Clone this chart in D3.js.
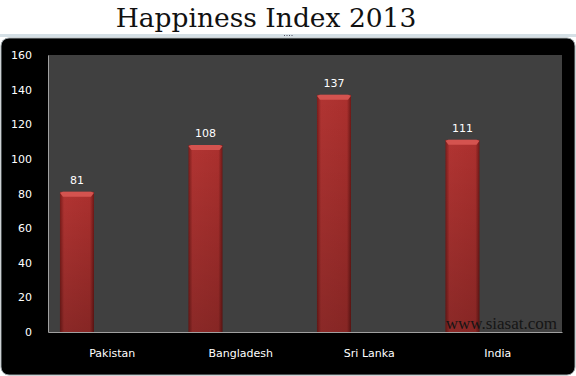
<!DOCTYPE html>
<html>
<head>
<meta charset="utf-8">
<script src="https://cdn.jsdelivr.net/npm/d3@7"></script>
<style>
  html, body { margin: 0; padding: 0; background: #fff; }
  svg { display: block; }
</style>
</head>
<body>
<svg id="chart" width="576" height="376"></svg>
<script>
const categories = ["Pakistan", "Bangladesh", "Sri Lanka", "India"];
const values = [81, 108, 137, 111];
const yTicks = [0, 20, 40, 60, 80, 100, 120, 140, 160];
const title = "Happiness Index 2013";

const svg = d3.select("#chart");
const plot = { left: 48, right: 562, top: 55, bottom: 332 };

const defs = svg.append("defs");
defs.append("linearGradient")
  .attr("id", "bar-side")
  .attr("x1", "0%").attr("x2", "100%").attr("y1", "0%").attr("y2", "0%")
  .call((g) => {
    g.append("stop").attr("offset", "0%").attr("stop-color", "#7a1c1a");
    g.append("stop").attr("offset", "12%").attr("stop-color", "#b13432");
    g.append("stop").attr("offset", "88%").attr("stop-color", "#ab302e");
    g.append("stop").attr("offset", "100%").attr("stop-color", "#6e1816");
  });
defs.append("linearGradient")
  .attr("id", "bar-shade")
  .attr("x1", "0%").attr("x2", "0%").attr("y1", "0%").attr("y2", "100%")
  .call((g) => {
    g.append("stop").attr("offset", "0%").attr("stop-color", "#000").attr("stop-opacity", 0);
    g.append("stop").attr("offset", "100%").attr("stop-color", "#000").attr("stop-opacity", 0.22);
  });

// title strip
svg.append("text")
  .attr("x", 266).attr("y", 27)
  .attr("text-anchor", "middle")
  .attr("font-family", "DejaVu Serif, serif")
  .attr("font-size", 26.5)
  .attr("fill", "#111")
  .text(title);

svg.append("rect").attr("x", 0).attr("y", 34).attr("width", 576).attr("height", 3).attr("fill", "#d5e0e6");
svg.append("g").selectAll("rect")
  .data([0, 1, 2, 3])
  .join("rect")
  .attr("x", (d) => 284 + d * 2.5).attr("y", 35)
  .attr("width", 1).attr("height", 1)
  .attr("fill", "#556");

// black frame
svg.append("rect")
  .attr("x", 1).attr("y", 38).attr("width", 574).attr("height", 337)
  .attr("rx", 8).attr("fill", "#000")
  .attr("stroke", "#9aa4a8").attr("stroke-width", 1);

const x = d3.scaleBand().domain(categories).range([plot.left, plot.right]);
const y = d3.scaleLinear().domain([0, 160]).range([plot.bottom, plot.top]);

svg.append("rect")
  .attr("x", plot.left).attr("y", plot.top)
  .attr("width", plot.right - plot.left).attr("height", plot.bottom - plot.top)
  .attr("fill", "#404040");

// y axis labels
const yAxis = svg.append("g")
  .attr("transform", `translate(${plot.left},0)`)
  .call(d3.axisLeft(y).tickValues(yTicks).tickSize(0).tickPadding(16));
yAxis.select(".domain").attr("stroke", "#a0a0a0");
yAxis.selectAll("text")
  .attr("fill", "#fff")
  .attr("font-family", "DejaVu Sans, sans-serif")
  .attr("font-size", 11);

// x axis labels
const xAxis = svg.append("g")
  .attr("transform", `translate(0,${plot.bottom})`)
  .call(d3.axisBottom(x).tickSize(0).tickPadding(17));
xAxis.select(".domain").attr("stroke", "#a0a0a0");
xAxis.selectAll("text")
  .attr("fill", "#fff")
  .attr("font-family", "DejaVu Sans, sans-serif")
  .attr("font-size", 11);

const bw = x.bandwidth();
const barX = (d, i) => x(categories[i]) + bw * 0.093;
const barW = bw * 0.265;

const bars = svg.append("g");
bars.selectAll("rect.bar")
  .data(values)
  .join("rect")
  .attr("class", "bar")
  .attr("x", barX)
  .attr("y", (d) => y(d))
  .attr("width", barW)
  .attr("height", (d) => y(0) - y(d))
  .attr("fill", "url(#bar-side)");
bars.selectAll("rect.shade")
  .data(values)
  .join("rect")
  .attr("class", "shade")
  .attr("x", barX)
  .attr("y", (d) => y(d))
  .attr("width", barW)
  .attr("height", (d) => y(0) - y(d))
  .attr("fill", "url(#bar-shade)");
bars.selectAll("path.cap")
  .data(values)
  .join("path")
  .attr("class", "cap")
  .attr("d", (d, i) => {
    const x0 = barX(d, i), y0 = y(d);
    return `M${x0},${y0 + 1} L${x0 + 3},${y0} L${x0 + barW - 3},${y0} L${x0 + barW},${y0 + 1} L${x0 + barW - 3},${y0 + 5} L${x0 + 3},${y0 + 5} Z`;
  })
  .attr("fill", "#d4534f");

svg.append("g").selectAll("text")
  .data(values)
  .join("text")
  .attr("x", (d, i) => barX(d, i) + barW / 2)
  .attr("y", (d) => y(d) - 8)
  .attr("text-anchor", "middle")
  .attr("fill", "#fff")
  .attr("font-family", "DejaVu Sans, sans-serif")
  .attr("font-size", 11)
  .text((d) => d);

svg.append("text")
  .attr("x", 557).attr("y", 329)
  .attr("text-anchor", "end")
  .attr("font-family", "Liberation Serif, DejaVu Serif, serif")
  .attr("font-size", 17)
  .attr("fill", "#151515")
  .text("www.siasat.com");
</script>
</body>
</html>
